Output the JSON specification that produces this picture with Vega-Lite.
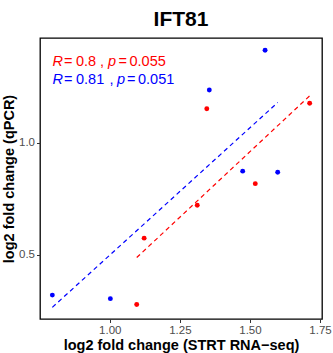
{
  "$schema": "https://vega.github.io/schema/vega-lite/v6.json",
  "width": 282,
  "height": 281,
  "autosize": {"type": "none"},
  "padding": {"left": 40, "top": 38, "right": 11, "bottom": 34},
  "background": "white",
  "title": {"text": "IFT81", "fontSize": 21, "font": "Liberation Sans", "fontWeight": "bold", "anchor": "middle", "offset": 8, "color": "black"},
  "datasets": {
    "points": [
      {"set": "blue", "fc_strt": 0.795, "fc_qpcr": 0.319},
      {"set": "blue", "fc_strt": 1.002, "fc_qpcr": 0.303},
      {"set": "blue", "fc_strt": 1.355, "fc_qpcr": 1.237},
      {"set": "blue", "fc_strt": 1.474, "fc_qpcr": 0.874},
      {"set": "blue", "fc_strt": 1.554, "fc_qpcr": 1.415},
      {"set": "blue", "fc_strt": 1.599, "fc_qpcr": 0.869},
      {"set": "red", "fc_strt": 1.096, "fc_qpcr": 0.277},
      {"set": "red", "fc_strt": 1.1225, "fc_qpcr": 0.574},
      {"set": "red", "fc_strt": 1.312, "fc_qpcr": 0.721},
      {"set": "red", "fc_strt": 1.346, "fc_qpcr": 1.153},
      {"set": "red", "fc_strt": 1.519, "fc_qpcr": 0.818},
      {"set": "red", "fc_strt": 1.713, "fc_qpcr": 1.178}
    ],
    "italic": [
      {"set": "red", "x": 0.7956, "y": 1.362, "t": "R"},
      {"set": "red", "x": 0.9936, "y": 1.362, "t": "p"},
      {"set": "blue", "x": 0.7956, "y": 1.280, "t": "R"},
      {"set": "blue", "x": 1.0257, "y": 1.280, "t": "p"}
    ],
    "plain": [
      {"set": "red", "x": 0.8366, "y": 1.362, "t": "="},
      {"set": "red", "x": 0.8794, "y": 1.362, "t": "0.8"},
      {"set": "red", "x": 0.9650, "y": 1.362, "t": ","},
      {"set": "red", "x": 1.0310, "y": 1.362, "t": "="},
      {"set": "red", "x": 1.0703, "y": 1.362, "t": "0.055"},
      {"set": "blue", "x": 0.8366, "y": 1.280, "t": "="},
      {"set": "blue", "x": 0.8794, "y": 1.280, "t": "0.81"},
      {"set": "blue", "x": 0.9989, "y": 1.280, "t": ","},
      {"set": "blue", "x": 1.0614, "y": 1.280, "t": "="},
      {"set": "blue", "x": 1.1006, "y": 1.280, "t": "0.051"}
    ]
  },
  "layer": [
    {
      "data": {"name": "points"},
      "mark": {"type": "circle", "size": 24, "opacity": 1},
      "encoding": {
        "x": {"field": "fc_strt", "type": "quantitative", "scale": {"domain": [0.751, 1.757], "nice": false, "zero": false},
              "axis": {"values": [1, 1.25, 1.5, 1.75], "format": ".2f", "title": "log2 fold change (STRT RNA\u2212seq)"}},
        "y": {"field": "fc_qpcr", "type": "quantitative", "scale": {"domain": [0.212, 1.47], "nice": false, "zero": false},
              "axis": {"values": [0.5, 1.0], "format": ".1f", "title": "log2 fold change (qPCR)"}},
        "color": {"field": "set", "type": "nominal", "scale": {"domain": ["red", "blue"], "range": ["#FF0000", "#0000FF"]}, "legend": null}
      }
    },
    {
      "data": {"name": "points"},
      "transform": [{"regression": "fc_qpcr", "on": "fc_strt", "groupby": ["set"]}],
      "mark": {"type": "line", "strokeDash": [4.5, 3.5], "strokeWidth": 1.2},
      "encoding": {
        "x": {"field": "fc_strt", "type": "quantitative"},
        "y": {"field": "fc_qpcr", "type": "quantitative"},
        "color": {"field": "set", "type": "nominal"},
        "detail": {"field": "set"}
      }
    },
    {
      "data": {"name": "italic"},
      "mark": {"type": "text", "align": "left", "baseline": "middle", "fontSize": 14.5, "fontStyle": "italic", "font": "Liberation Sans"},
      "encoding": {
        "x": {"field": "x", "type": "quantitative"},
        "y": {"field": "y", "type": "quantitative"},
        "text": {"field": "t"},
        "color": {"field": "set", "type": "nominal"}
      }
    },
    {
      "data": {"name": "plain"},
      "mark": {"type": "text", "align": "left", "baseline": "middle", "fontSize": 14.5, "font": "Liberation Sans"},
      "encoding": {
        "x": {"field": "x", "type": "quantitative"},
        "y": {"field": "y", "type": "quantitative"},
        "text": {"field": "t"},
        "color": {"field": "set", "type": "nominal"}
      }
    }
  ],
  "config": {
    "view": {"stroke": "black", "strokeWidth": 1.3},
    "axis": {
      "grid": false, "domain": false, "ticks": true, "tickColor": "#333333", "tickSize": 3.5, "tickWidth": 1,
      "labelColor": "#4D4D4D", "labelFont": "Liberation Sans", "labelFontSize": 11.5, "labelPadding": 2,
      "titleFont": "Liberation Sans", "titleFontSize": 14.5, "titleFontWeight": "bold", "titleColor": "black", "titlePadding": 2
    }
  }
}
